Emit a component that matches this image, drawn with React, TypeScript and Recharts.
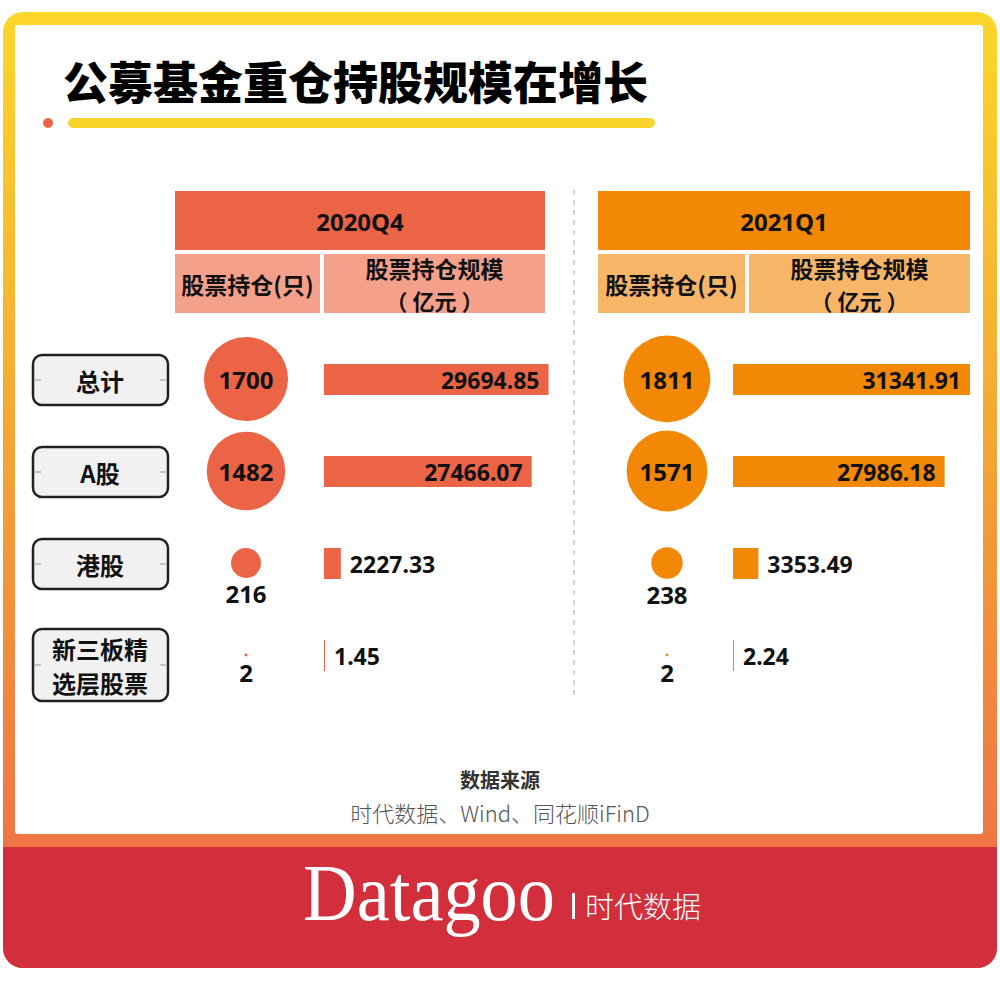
import { BarChart, Bar, XAxis, YAxis, ZAxis, ScatterChart, Scatter, LabelList } from "recharts";

const rowNames = ["总计", "A股", "港股", "新三板精选层股票"];
const periods = ["2020Q4", "2021Q1"];
const holdings2020 = [1700, 1482, 216, 2];
const holdings2021 = [1811, 1571, 238, 2];
const scale2020 = [29694.85, 27466.07, 2227.33, 1.45];
const scale2021 = [31341.91, 27986.18, 3353.49, 2.24];
const colHeads = ["股票持仓(只)", "股票持仓规模", "（ 亿元 ）"];

const FONT = '"Noto Sans CJK SC", "Noto Sans", sans-serif';
const NUM_FONT = '"Noto Sans", "Noto Sans CJK SC", sans-serif';

const RED = "#EC6446";
const RED_LIGHT = "#F4A08B";
const ORANGE = "#F28806";
const ORANGE_LIGHT = "#F7B568";

const ROWS_TOP = 333;
const ROWS_H = 368;
const PAD_B = 12;
const BAR_W = 237;
const maxScale = Math.max(...scale2020, ...scale2021);
const maxHold = Math.max(...holdings2020, ...holdings2021);

const RowTick = (props: any) => {
  const { y, payload } = props;
  const label: string = payload.value;
  const lines = label.length > 4 ? [label.slice(0, 4), label.slice(4)] : [label];
  const two = lines.length > 1;
  const top = two ? y - 26 : y - 24;
  const h = two ? 72 : 50;
  const mid = top + h / 2;
  return (
    <g>
      <rect x={33} y={top} width={135} height={h} rx={9} fill="#F1F1F1" stroke="#222" strokeWidth={2.5} />
      <line x1={35} x2={41} y1={mid} y2={mid} stroke="#999" strokeWidth={1} />
      <line x1={160} x2={166} y1={mid} y2={mid} stroke="#999" strokeWidth={1} />
      {lines.map((l, i) => (
        <text
          key={i}
          x={100}
          y={mid + (two ? (i - 0.5) * 34 : 0)}
          textAnchor="middle"
          dominantBaseline="central"
          fontFamily={FONT}
          fontWeight={700}
          fontSize={24}
          fill="#111"
        >
          {l}
        </text>
      ))}
    </g>
  );
};

const makeBubble = (color: string) => (props: any) => {
  const { cx, cy, payload } = props;
  const r = props.width ? props.width / 2 : Math.sqrt((props.size || 0) / Math.PI);
  const big = r > 30;
  return (
    <g>
      <circle cx={cx} cy={cy} r={r} fill={color} />
      <text
        x={cx}
        y={big ? cy : cy + r + 16}
        textAnchor="middle"
        dominantBaseline="central"
        fontFamily={NUM_FONT}
        fontWeight={700}
        fontSize={24}
        fill="#111"
      >
        {payload.count}
      </text>
    </g>
  );
};

type BubbleProps = {
  left: number;
  width: number;
  period: string;
  counts: number[];
  color: string;
  withLabels: boolean;
};

const HoldingBubbles = ({ left, width, period, counts, color, withLabels }: BubbleProps) => {
  const data = rowNames.map((name, i) => ({ name, period, count: counts[i] }));
  return (
    <div style={{ position: "absolute", left, top: ROWS_TOP }}>
      <ScatterChart width={width} height={ROWS_H + PAD_B} margin={{ top: 0, right: 0, bottom: PAD_B, left: 0 }}>
        <XAxis type="category" dataKey="period" hide height={0} allowDuplicatedCategory={false} />
        <YAxis
          type="category"
          dataKey="name"
          reversed
          width={withLabels ? 180 : 0}
          hide={!withLabels}
          axisLine={false}
          tickLine={false}
          tick={withLabels ? <RowTick /> : false}
          allowDuplicatedCategory={false}
        />
        <ZAxis type="number" dataKey="count" domain={[0, maxHold]} range={[0, Math.PI * 43.4 * 43.4]} />
        <Scatter data={data} shape={makeBubble(color)} isAnimationActive={false} />
      </ScatterChart>
    </div>
  );
};

const BarValueLabel = (props: any) => {
  const { x, y, width, height, value } = props;
  const inside = width > 100;
  return (
    <text
      x={inside ? x + width - 9 : x + width + 9}
      y={y + height / 2}
      textAnchor={inside ? "end" : "start"}
      dominantBaseline="central"
      fontFamily={NUM_FONT}
      fontWeight={700}
      fontSize={23}
      fill="#111"
    >
      {value.toFixed(2)}
    </text>
  );
};

const ScaleBars = ({ left, values, color }: { left: number; values: number[]; color: string }) => {
  const data = rowNames.map((name, i) => ({ name, value: values[i] }));
  return (
    <div style={{ position: "absolute", left, top: ROWS_TOP }}>
      <BarChart
        layout="vertical"
        width={BAR_W + 110}
        height={ROWS_H}
        data={data}
        margin={{ top: 0, right: 110, bottom: 0, left: 0 }}
      >
        <XAxis type="number" domain={[0, maxScale]} hide height={0} />
        <YAxis type="category" dataKey="name" hide width={0} />
        <Bar dataKey="value" fill={color} barSize={31} minPointSize={1} isAnimationActive={false}>
          <LabelList dataKey="value" content={<BarValueLabel />} />
        </Bar>
      </BarChart>
    </div>
  );
};

const PeriodHeader = ({ x, w1, w2, title, main, light }: any) => {
  const total = w1 + 4 + w2;
  return (
    <g>
      <rect x={x} y={191} width={total} height={59} fill={main} />
      <text x={x + total / 2} y={221} textAnchor="middle" dominantBaseline="central" fontFamily={NUM_FONT} fontWeight={700} fontSize={24} fill="#111">
        {title}
      </text>
      <rect x={x} y={254} width={w1} height={59} fill={light} />
      <rect x={x + w1 + 4} y={254} width={w2} height={59} fill={light} />
      <text x={x + w1 / 2} y={284} textAnchor="middle" dominantBaseline="central" fontFamily={FONT} fontWeight={700} fontSize={23} fill="#111">
        {colHeads[0]}
      </text>
      <text x={x + w1 + 4 + w2 / 2} y={268} textAnchor="middle" dominantBaseline="central" fontFamily={FONT} fontWeight={700} fontSize={23} fill="#111">
        {colHeads[1]}
      </text>
      <text x={x + w1 + 4 + w2 / 2} y={300} textAnchor="middle" dominantBaseline="central" fontFamily={FONT} fontWeight={700} fontSize={22} fill="#111">
        {colHeads[2]}
      </text>
    </g>
  );
};

export default function App() {
  return (
    <div style={{ position: "absolute", left: 0, top: 0, width: 1000, height: 983, background: "#fff", overflow: "hidden" }}>
      <div
        style={{
          position: "absolute",
          left: 3,
          top: 12,
          width: 994,
          height: 956,
          borderRadius: 20,
          overflow: "hidden",
          background: "linear-gradient(to bottom, #FBD62A 0%, #F8C12E 20%, #F4A036 50%, #F07D43 80%, #EE6A46 100%)",
        }}
      >
        <div style={{ position: "absolute", left: 12, top: 13, width: 968, height: 809, background: "#fff", borderRadius: 3 }} />
        <div style={{ position: "absolute", left: 0, top: 835, width: 994, height: 121, background: "#D22E3C" }} />
      </div>
      <svg width={1000} height={983} style={{ position: "absolute", left: 0, top: 0 }}>
        <text x={63} y={100} fontFamily={FONT} fontWeight={900} fontSize={45} fill="#000">
          公募基金重仓持股规模在增长
        </text>
        <circle cx={48} cy={123} r={5} fill={RED} />
        <rect x={68} y={118} width={587} height={10} rx={5} fill="#F9D42B" />
        <PeriodHeader x={175} w1={145} w2={221} title={periods[0]} main={RED} light={RED_LIGHT} />
        <PeriodHeader x={598} w1={147} w2={221} title={periods[1]} main={ORANGE} light={ORANGE_LIGHT} />
        <line x1={574} x2={574} y1={190} y2={700} stroke="#AAA" strokeWidth={1} strokeDasharray="5 5" />
        <text x={500} y={779} textAnchor="middle" dominantBaseline="central" fontFamily={FONT} fontWeight={700} fontSize={20} fill="#333">
          数据来源
        </text>
        <text x={500} y={812} textAnchor="middle" dominantBaseline="central" fontFamily={FONT} fontWeight={300} fontSize={22} fill="#555">
          时代数据、Wind、同花顺iFinD
        </text>
        <text x={303} y={920} fontFamily='"Liberation Serif", serif' fontSize={80} fill="#fff" textLength={252} lengthAdjust="spacingAndGlyphs">
          Datagoo
        </text>
        <rect x={572} y={893} width={3} height={26} fill="#fff" />
        <text x={585} y={918} fontFamily={FONT} fontWeight={300} fontSize={29} fill="#fff">
          时代数据
        </text>
      </svg>
      <HoldingBubbles left={0} width={312} period={periods[0]} counts={holdings2020} color={RED} withLabels />
      <ScaleBars left={324} values={scale2020} color={RED} />
      <HoldingBubbles left={598} width={138} period={periods[1]} counts={holdings2021} color={ORANGE} withLabels={false} />
      <ScaleBars left={733} values={scale2021} color={ORANGE} />
    </div>
  );
}
